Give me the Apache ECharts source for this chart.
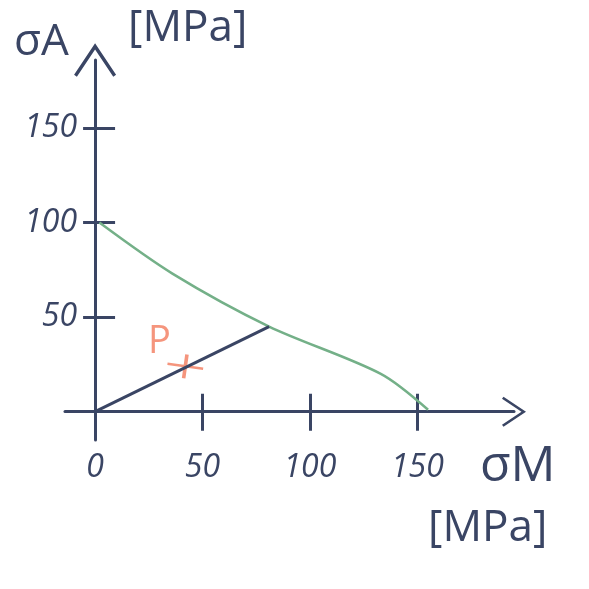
<!DOCTYPE html>
<html>
<head>
<meta charset="utf-8">
<script src="https://cdn.jsdelivr.net/npm/echarts@6/dist/echarts.min.js"></script>
<style>html,body{margin:0;padding:0;background:#fff;}#c{width:589px;height:589px;}</style>
</head>
<body>
<div id="c"></div>
<script>
// Data
var xTicks = [50, 100, 150];
var xLabels = [0, 50, 100, 150];
var yTicks = [50, 100, 150];
var yLabels = [50, 100, 150];
var failureLine = [[2, 100], [36, 73], [81, 45], [133, 20], [155, 1]];
var loadPath = [[0, 0], [81, 45]];
var pointP = [[42, 24]];

var ink = '#3a4564';
var green = '#74b088';
var orange = '#f27a5c';
var font = 'Open Sans';
var arrow = 'path://M0,0 L12,18 L10.4,19.2 L0,3.6 L-10.4,19.2 L-12,18 Z';
var cross = 'path://M0,9 L20,9 L20,11 L0,11 Z M9,0 L11,0 L11,20 L9,20 Z';

var chart = echarts.init(document.getElementById('c'));
var baseX = {
  type: 'value', min: -14, max: 195, position: 'bottom',
  splitLine: {show: false}
};
var baseY = {
  type: 'value', min: -15, max: 186, position: 'left',
  splitLine: {show: false}
};
chart.setOption({
  animation: false,
  grid: {left: 65, right: 75, top: 60, bottom: 149, outerBoundsMode: 'none'},
  xAxis: [
    Object.assign({}, baseX, {
      axisLine: {show: true, onZero: true, onZeroAxisIndex: 0, symbol: ['none', arrow], symbolSize: [37, 24],
        lineStyle: {color: ink, width: 3}},
      axisTick: {show: true, customValues: xTicks, length: 19, inside: false, lineStyle: {color: ink, width: 3}},
      axisLabel: {show: true, customValues: xLabels, margin: 12, color: ink, fontSize: 32, fontFamily: font, fontStyle: 'italic'}
    }),
    Object.assign({}, baseX, {
      axisLine: {show: false, onZero: true, onZeroAxisIndex: 0},
      axisTick: {show: true, customValues: xTicks, length: 18, inside: true, lineStyle: {color: ink, width: 3}},
      axisLabel: {show: false}
    })
  ],
  yAxis: [
    Object.assign({}, baseY, {
      axisLine: {show: true, onZero: true, onZeroAxisIndex: 0, symbol: ['none', arrow], symbolSize: [42, 42],
        lineStyle: {color: ink, width: 3}},
      axisTick: {show: true, customValues: yTicks, length: 12, inside: false, lineStyle: {color: ink, width: 3}},
      axisLabel: {show: true, customValues: yLabels, margin: -12, color: ink, fontSize: 32, fontFamily: font, fontStyle: 'italic'}
    }),
    Object.assign({}, baseY, {
      axisLine: {show: false, onZero: true, onZeroAxisIndex: 0},
      axisTick: {show: true, customValues: yTicks, length: 20, inside: true, lineStyle: {color: ink, width: 3}},
      axisLabel: {show: false}
    })
  ],
  series: [
    {
      type: 'line', data: failureLine, xAxisIndex: 0, yAxisIndex: 0,
      showSymbol: false, smooth: 0.3,
      lineStyle: {color: green, width: 2.5}
    },
    {
      type: 'line', data: loadPath, xAxisIndex: 0, yAxisIndex: 0,
      showSymbol: false,
      lineStyle: {color: ink, width: 3}
    },
    {
      type: 'scatter', data: pointP, xAxisIndex: 0, yAxisIndex: 0,
      symbol: cross, symbolSize: [36, 24], symbolRotate: -8,
      itemStyle: {color: orange},
      label: {show: true, formatter: 'P', position: 'inside', offset: [-26, -24],
        color: orange, fontSize: 38, fontFamily: font}
    }
  ],
  graphic: [
    {type: 'text', left: 14, top: 20, style: {text: 'σA', fill: ink, font: '44px "Open Sans"'}},
    {type: 'text', left: 128, top: 6, style: {text: '[MPa]', fill: ink, font: '44px "Open Sans"'}},
    {type: 'text', left: 480, top: 442, style: {text: 'σM', fill: ink, font: '50px "Open Sans"'}},
    {type: 'text', left: 428, top: 506, style: {text: '[MPa]', fill: ink, font: '44px "Open Sans"'}}
  ]
});
</script>
</body>
</html>
